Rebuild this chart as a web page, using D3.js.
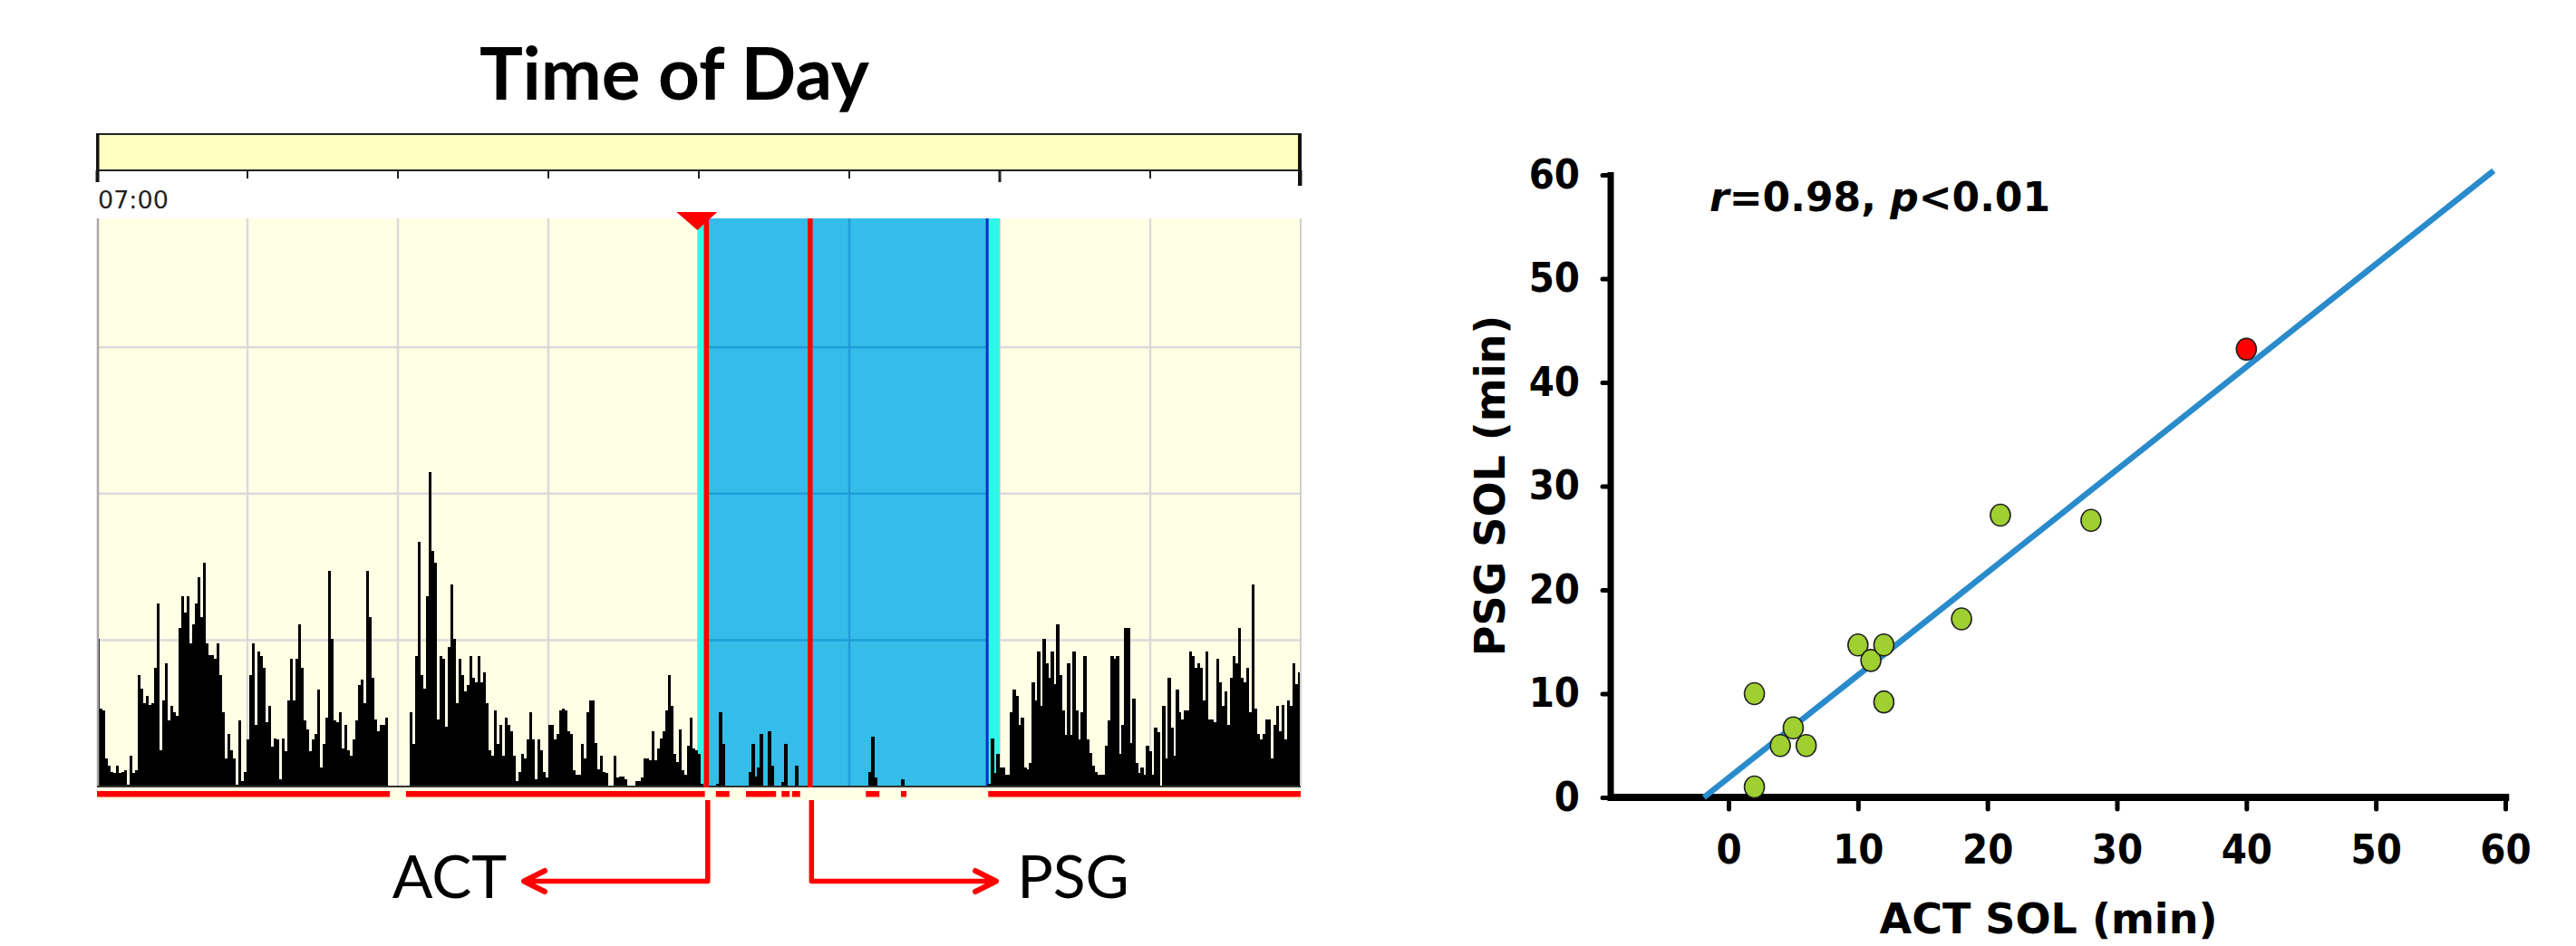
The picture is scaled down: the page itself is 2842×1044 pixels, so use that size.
<!DOCTYPE html>
<html>
<head>
<meta charset="utf-8">
<script src="https://cdn.jsdelivr.net/npm/d3@7"></script>
<style>
  html, body { margin: 0; padding: 0; background: #fff; }
  svg { display: block; }
</style>
</head>
<body>
<div id="chart"></div>
<script>
'use strict';

// ---- left panel: actigraphy counts, one value per epoch, 07:00 -> 07:00 ----
var activity = [
  101,53,52,19,14,10,9,14,9,10, 11,1,21,9,11,76,67,57,62,56,
  57,81,125,25,59,84,45,55,51,48, 108,130,119,130,98,111,125,143,116,153,
  98,90,90,87,98,76,51,19,36,25, 19,1,45,4,10,32,76,98,42,92,
  89,81,44,55,27,33,32,5,33,24, 59,87,59,87,111,81,45,39,24,32,
  36,66,13,29,47,147,101,45,44,51, 26,42,25,21,32,45,69,73,57,147,
  116,74,46,38,42,42,47,0,0,0, 0,0,0,0,0,51,29,89,167,76,
  67,130,215,161,153,46,89,87,41,95, 138,101,57,87,76,65,69,89,74,71,
  89,71,78,57,25,21,52,29,42,21, 47,42,38,21,4,10,22,19,32,51,
  32,5,32,25,10,6,42,42,32,36, 52,
  53,52,38,36,11,8,8,29,19,51, 59,59,30,12,21,10,9,0,0,21,
  6,7,7,5,0,0,0,4,4,6, 19,19,18,38,18,26,33,38,52,76,
  55,22,17,39,11,8,28,47,26,25, 22,2,0,0,0,0,0,2,51,29,
  0,0,0,0,0,0,0,0,0,10, 29,7,13,36,0,0,38,14,0,0,
  0,3,29,0,0,0,14,0,0,0, 0,0,0,0,0,0,0,0,0,0,
  0,0,0,0,0,0,0,0,0,0, 0,0,0,10,34,6,0,0,0,0,
  0,0,0,0,0,5,0,0,0,0, 0,0,0,0,0,0,0,0,0,0,
  0,0,0,0,0,0,0,0,0,0, 0,0,0,0,0,0,0,2,33,9,
  22,13,13,8,8,51,66,62,42,47,
  13,12,16,71,59,92,55,101,84,74, 92,70,111,76,52,35,84,35,92,52,
  32,51,89,32,23,14,10,8,8,8, 28,45,89,87,89,22,42,108,108,30,
  60,16,9,13,8,28,24,8,40,37, 0,55,19,74,40,21,66,51,46,52,
  52,92,89,81,84,81,59,92,46,46, 44,87,71,55,65,42,74,89,84,108,
  74,71,81,51,138,53,36,32,36,46, 46,19,42,55,38,56,32,59,55,84,
  70,78
];
var hourTicks = [0, 3, 6, 9, 12, 15, 18, 21, 24];     // hours after 07:00
var majorHourTicks = [0, 18, 24];
var startLabel = '07:00';
var countGrid = [100, 200, 300];
var restInterval = [11.97, 18.0];
var sleepInterval = [12.15, 17.75];
var actOnset = 12.15;
var psgOnset = 14.22;
var wakeRuns = [[0, 5.84], [6.16, 12.12], [12.34, 12.61], [12.94, 13.54], [13.65, 13.81],
                [13.86, 14.02], [15.33, 15.60], [16.03, 16.14], [17.77, 24]];

// ---- right panel: sleep onset latency, actigraphy vs polysomnography ----
var actSol = [2, 2, 4, 5, 6, 10, 11, 12, 12, 18, 21, 28, 40];
var psgSol = [1, 10, 5, 6.7, 5, 14.7, 13.2, 14.7, 9.2, 17.2, 27.2, 26.7, 43.2];
var flagged = [0, 0, 0, 0, 0, 0, 0, 0, 0, 0, 0, 0, 1];
var solTicks = [0, 10, 20, 30, 40, 50, 60];
var fitAct = [-1.9, 59.1];
var fitPsg = [0, 60.4];


function actigram() {

  var scope = {};
  var exports = {};

  scope.plot = {left: 107, right: 1435, top: 241, bottom: 868};
  scope.bar = {top: 148, bottom: 188};

  scope.makeScales = function() {
    scope.x = d3.scaleLinear().domain([0, 24]).range([scope.plot.left, scope.plot.right]);
    scope.y = d3.scaleLinear().domain([0, 388]).range([scope.plot.bottom, scope.plot.top]);
    scope.epochHours = 24 / activity.length;
  }

  scope.appendTitle = function(svg) {
    svg.append('text')
      .attr('x', 744).attr('y', 110)
      .attr('text-anchor', 'middle')
      .style('font-family', 'Lato, "Liberation Sans", sans-serif')
      .style('font-weight', 'bold')
      .style('font-size', '80px')
      .text('Time of Day');
  }

  scope.appendTimeline = function(svg) {
    var g = svg.append('g').attr('class', 'timeline');
    g.append('rect')
      .attr('x', scope.plot.left).attr('y', scope.bar.top)
      .attr('width', scope.plot.right - scope.plot.left)
      .attr('height', scope.bar.bottom - scope.bar.top)
      .style('fill', '#ffffc2')
      .style('stroke', '#222')
      .style('stroke-width', 2);

    g.selectAll('.tick')
      .data(hourTicks)
      .enter()
      .append('line')
      .attr('class', 'tick')
      .attr('x1', function(d) { return scope.x(d); })
      .attr('x2', function(d) { return scope.x(d); })
      .attr('y1', scope.bar.bottom)
      .attr('y2', function(d) {
        if (d === 24) return scope.bar.bottom + 17;
        return majorHourTicks.indexOf(d) >= 0 ? scope.bar.bottom + 13 : scope.bar.bottom + 9;
      })
      .style('stroke', '#222')
      .style('stroke-width', function(d) { return majorHourTicks.indexOf(d) >= 0 ? 3 : 2; });

    // heavy ends of the strip
    g.append('line')
      .attr('x1', scope.x(24) - 1).attr('x2', scope.x(24) - 1)
      .attr('y1', scope.bar.top).attr('y2', scope.bar.bottom + 17)
      .style('stroke', '#111').style('stroke-width', 4);
    g.append('line')
      .attr('x1', scope.x(0) + 1).attr('x2', scope.x(0) + 1)
      .attr('y1', scope.bar.top).attr('y2', scope.bar.bottom + 13)
      .style('stroke', '#111').style('stroke-width', 3);

    g.append('text')
      .attr('x', scope.x(0) + 1).attr('y', 230)
      .style('font-family', '"DejaVu Sans", Verdana, sans-serif')
      .style('font-size', '27px')
      .style('fill', '#222')
      .text(startLabel);
  }

  scope.appendBackground = function(svg) {
    var p = scope.plot;
    svg.append('rect')
      .attr('x', p.left).attr('y', p.top)
      .attr('width', p.right - p.left).attr('height', p.bottom - p.top)
      .style('fill', '#ffffe6');

    var grid = svg.append('g').attr('class', 'grid');
    grid.selectAll('.vgrid')
      .data(hourTicks.slice(1, -1))
      .enter().append('line')
      .attr('x1', function(d) { return scope.x(d); })
      .attr('x2', function(d) { return scope.x(d); })
      .attr('y1', p.top).attr('y2', p.bottom)
      .style('stroke', '#dadada').style('stroke-width', 2.5);
    grid.selectAll('.hgrid')
      .data(countGrid)
      .enter().append('line')
      .attr('x1', p.left).attr('x2', p.right)
      .attr('y1', function(d) { return scope.y(d); })
      .attr('y2', function(d) { return scope.y(d); })
      .style('stroke', '#dadada').style('stroke-width', 2.5);
  }

  scope.appendIntervals = function(svg) {
    var p = scope.plot;
    svg.append('rect')
      .attr('x', scope.x(restInterval[0])).attr('y', p.top)
      .attr('width', scope.x(restInterval[1]) - scope.x(restInterval[0]))
      .attr('height', p.bottom - p.top)
      .style('fill', '#30f8e8');
    svg.append('rect')
      .attr('x', scope.x(sleepInterval[0])).attr('y', p.top)
      .attr('width', scope.x(sleepInterval[1]) - scope.x(sleepInterval[0]))
      .attr('height', p.bottom - p.top)
      .style('fill', '#33bde8');

    // grid shows darker inside the sleep block
    var x0 = scope.x(sleepInterval[0]), x1 = scope.x(sleepInterval[1]);
    var inner = hourTicks.filter(function(d) { return scope.x(d) > x0 && scope.x(d) < x1; });
    svg.selectAll('.sgridv')
      .data(inner)
      .enter().append('line')
      .attr('x1', function(d) { return scope.x(d); })
      .attr('x2', function(d) { return scope.x(d); })
      .attr('y1', p.top).attr('y2', p.bottom)
      .style('stroke', '#1f9dd8').style('stroke-width', 2.5);
    svg.selectAll('.sgridh')
      .data(countGrid)
      .enter().append('line')
      .attr('x1', x0).attr('x2', x1)
      .attr('y1', function(d) { return scope.y(d); })
      .attr('y2', function(d) { return scope.y(d); })
      .style('stroke', '#1f9dd8').style('stroke-width', 2.5);

    svg.append('line')
      .attr('x1', x1).attr('x2', x1)
      .attr('y1', p.top).attr('y2', p.bottom)
      .style('stroke', '#1428d0').style('stroke-width', 3);
  }

  scope.appendBars = function(svg) {
    var w = scope.x(scope.epochHours) - scope.x(0);
    svg.append('g')
      .attr('class', 'bars')
      .selectAll('rect')
      .data(activity)
      .enter()
      .append('rect')
      .attr('x', function(d, i) { return scope.x(i * scope.epochHours); })
      .attr('y', function(d) { return scope.y(d); })
      .attr('width', w + 0.4)
      .attr('height', function(d) { return scope.plot.bottom - scope.y(d); })
      .attr('shape-rendering', 'crispEdges')
      .style('fill', '#000');
  }

  scope.appendFrame = function(svg) {
    var p = scope.plot;
    svg.append('line')
      .attr('x1', p.left + 1).attr('x2', p.left + 1)
      .attr('y1', p.top).attr('y2', p.bottom)
      .style('stroke', '#a8a8a8').style('stroke-width', 2.5);
    svg.append('line')
      .attr('x1', p.right).attr('x2', p.right)
      .attr('y1', p.top).attr('y2', p.bottom)
      .style('stroke', '#d0d0d0').style('stroke-width', 2);
    svg.append('line')
      .attr('x1', p.left).attr('x2', p.right)
      .attr('y1', p.bottom).attr('y2', p.bottom)
      .style('stroke', '#333').style('stroke-width', 2);

    // wake-scored epochs strip
    svg.append('rect')
      .attr('x', p.left).attr('y', p.bottom + 1)
      .attr('width', p.right - p.left).attr('height', 14)
      .style('fill', '#ffffe6');
    svg.selectAll('.wake')
      .data(wakeRuns)
      .enter().append('rect')
      .attr('class', 'wake')
      .attr('x', function(d) { return scope.x(d[0]); })
      .attr('y', p.bottom + 5)
      .attr('width', function(d) { return scope.x(d[1]) - scope.x(d[0]); })
      .attr('height', 6.5)
      .style('fill', '#ff0000');
  }

  scope.appendOnsets = function(svg) {
    var p = scope.plot;
    [actOnset, psgOnset].forEach(function(t) {
      svg.append('line')
        .attr('x1', scope.x(t)).attr('x2', scope.x(t))
        .attr('y1', p.top).attr('y2', p.bottom + 1)
        .style('stroke', '#ff0000').style('stroke-width', 5.5);
    });

    var tx = scope.x(restInterval[0]);
    svg.append('path')
      .attr('d', 'M' + (tx - 23) + ',' + (p.top - 7) + 'L' + (tx + 22) + ',' + (p.top - 7) + 'L' + tx + ',' + (p.top + 13) + 'Z')
      .style('fill', '#ff0000');

    var ay = 972.5;
    var arrows = [
      {t: actOnset, end: 578, dir: 1, label: 'ACT', lx: 496},
      {t: psgOnset, end: 1099, dir: -1, label: 'PSG', lx: 1184}
    ];
    arrows.forEach(function(a) {
      var x0 = scope.x(a.t) + 1.5;
      svg.append('path')
        .attr('d', 'M' + x0 + ',' + (p.bottom + 15) + 'L' + x0 + ',' + ay + 'L' + a.end + ',' + ay)
        .style('fill', 'none').style('stroke', '#ff0000').style('stroke-width', 5.5)
        .style('stroke-linejoin', 'round');
      svg.append('path')
        .attr('d', 'M' + (a.end + a.dir * 23) + ',' + (ay - 11.5) + 'L' + a.end + ',' + ay + 'L' + (a.end + a.dir * 23) + ',' + (ay + 11.5))
        .style('fill', 'none').style('stroke', '#ff0000').style('stroke-width', 6)
        .style('stroke-linecap', 'round').style('stroke-linejoin', 'round');
      svg.append('text')
        .attr('x', a.lx).attr('y', 991)
        .attr('text-anchor', 'middle')
        .style('font-family', 'Lato, "Open Sans", sans-serif')
        .style('font-size', '66px')
        .text(a.label);
    });
  }

  exports.run = function(svg) {
    scope.makeScales();
    scope.appendTitle(svg);
    scope.appendTimeline(svg);
    scope.appendBackground(svg);
    scope.appendIntervals(svg);
    scope.appendBars(svg);
    scope.appendFrame(svg);
    scope.appendOnsets(svg);
  }

  return exports;
}


function scatterplot() {

  var scope = {};
  var exports = {};

  scope.tickFont = '"DejaVu Sans Condensed", "DejaVu Sans", sans-serif';
  scope.titleFont = '"DejaVu Sans", Verdana, sans-serif';

  scope.makeScales = function() {
    scope.x = d3.scaleLinear().domain([0, 60]).range([1907, 2764]);
    scope.y = d3.scaleLinear().domain([0, 60]).range([880, 193]);
    scope.axisX = scope.x(-9.1);
  }

  scope.styleAxis = function(g) {
    g.select('.domain').remove();
    g.selectAll('.tick line')
      .style('stroke', '#000').style('stroke-width', 5).style('stroke-linecap', 'round');
    g.selectAll('.tick text')
      .style('font-family', scope.tickFont)
      .style('font-stretch', 'condensed')
      .style('font-weight', 'bold')
      .style('font-size', '45px')
      .style('fill', '#000');
  }

  scope.createAxes = function(svg) {
    var yAxis = d3.axisLeft(scope.y).tickValues(solTicks).tickSize(9).tickPadding(25);
    svg.append('g')
      .attr('transform', 'translate(' + scope.axisX + ',0)')
      .call(yAxis)
      .call(scope.styleAxis);

    var xAxis = d3.axisBottom(scope.x).tickValues(solTicks).tickSize(13).tickPadding(28);
    svg.append('g')
      .attr('transform', 'translate(0,' + scope.y(0) + ')')
      .call(xAxis)
      .call(scope.styleAxis);

    svg.append('line')
      .attr('x1', scope.axisX).attr('x2', scope.axisX)
      .attr('y1', scope.y(60) - 3).attr('y2', scope.y(0) + 4)
      .style('stroke', '#000').style('stroke-width', 7);
    svg.append('line')
      .attr('x1', scope.axisX - 3).attr('x2', scope.x(60.3))
      .attr('y1', scope.y(0)).attr('y2', scope.y(0))
      .style('stroke', '#000').style('stroke-width', 8);

    svg.append('text')
      .attr('transform', 'translate(1660,536) rotate(-90)')
      .attr('text-anchor', 'middle')
      .style('font-family', scope.titleFont)
      .style('font-weight', 'bold')
      .style('font-size', '46px')
      .text('PSG SOL (min)');
    svg.append('text')
      .attr('x', 2260).attr('y', 1030)
      .attr('text-anchor', 'middle')
      .style('font-family', scope.titleFont)
      .style('font-weight', 'bold')
      .style('font-size', '46px')
      .text('ACT SOL (min)');
  }

  scope.appendFit = function(svg) {
    var line = d3.line()
      .x(function(d) { return scope.x(d[0]); })
      .y(function(d) { return scope.y(d[1]); });
    svg.append('path')
      .datum(d3.zip(fitAct, fitPsg))
      .attr('d', line)
      .style('fill', 'none')
      .style('stroke', '#2a8bcc')
      .style('stroke-width', 6.5);
  }

  scope.appendCircles = function(svg) {
    svg.append('g')
      .selectAll('ellipse')
      .data(d3.range(actSol.length))
      .enter()
      .append('ellipse')
      .attr('cx', function(i) { return scope.x(actSol[i]); })
      .attr('cy', function(i) { return scope.y(psgSol[i]); })
      .attr('rx', 11)
      .attr('ry', 12)
      .style('fill', function(i) { return flagged[i] ? '#ff0000' : '#9fd030'; })
      .style('stroke', '#222')
      .style('stroke-width', 1.6);
  }

  scope.appendStats = function(svg) {
    var t = svg.append('text')
      .attr('x', 1886).attr('y', 233)
      .style('font-family', scope.titleFont)
      .style('font-weight', 'bold')
      .style('font-size', '44px');
    t.append('tspan').style('font-style', 'italic').text('r');
    t.append('tspan').text('=0.98, ');
    t.append('tspan').style('font-style', 'italic').text('p');
    t.append('tspan').text('<0.01');
  }

  exports.run = function(svg) {
    scope.makeScales();
    scope.createAxes(svg);
    scope.appendFit(svg);
    scope.appendCircles(svg);
    scope.appendStats(svg);
  }

  return exports;
}

var svg = d3.select('#chart').append('svg')
  .attr('width', 2842)
  .attr('height', 1044)
  .style('background', '#fff');

actigram().run(svg);
scatterplot().run(svg);
</script>
</body>
</html>
